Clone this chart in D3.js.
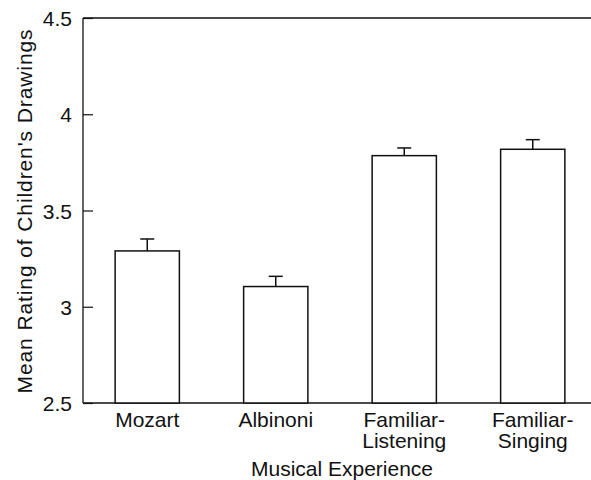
<!DOCTYPE html>
<html>
<head>
<meta charset="utf-8">
<script src="https://cdn.jsdelivr.net/npm/d3@7"></script>
<style>
  body { margin: 0; background: #fff; }
  text { font-family: "Liberation Sans", Arial, sans-serif; fill: #111; }
</style>
</head>
<body>
<div id="chart"></div>
<script>
// chart data
const categories = [["Mozart"], ["Albinoni"], ["Familiar-", "Listening"], ["Familiar-", "Singing"]];
const means = [3.29, 3.105, 3.785, 3.818];
const errors = [0.062, 0.053, 0.04, 0.05];
const yTicks = [2.5, 3, 3.5, 4, 4.5];

const width = 591, height = 480;
const margin = { top: 18, right: -6, bottom: 77, left: 83 };

const svg = d3.select("#chart")
  .append("svg")
  .attr("width", width)
  .attr("height", height);

const x = d3.scaleBand()
  .domain(d3.range(categories.length))
  .range([margin.left, width - margin.right])
  .paddingInner(0.5)
  .paddingOuter(0.25);

const y = d3.scaleLinear()
  .domain([2.5, 4.5])
  .range([height - margin.bottom, margin.top]);

// frame lines: left, top and bottom
const frame = svg.append("g").attr("stroke", "#111").attr("stroke-width", 1.3);
frame.append("line")
  .attr("x1", margin.left).attr("x2", margin.left)
  .attr("y1", y(4.5)).attr("y2", y(2.5));
frame.append("line")
  .attr("x1", margin.left).attr("x2", width)
  .attr("y1", y(4.5)).attr("y2", y(4.5));
frame.append("line")
  .attr("x1", margin.left).attr("x2", width)
  .attr("y1", y(2.5)).attr("y2", y(2.5));

// y axis, ticks point inward
const yAxis = svg.append("g")
  .attr("transform", `translate(${margin.left},0)`)
  .call(d3.axisRight(y).tickValues(yTicks).tickSize(10).tickFormat(d3.format("")));
yAxis.select(".domain").remove();
yAxis.selectAll("line").attr("stroke", "#111").attr("stroke-width", 1.2);
yAxis.selectAll("text")
  .attr("x", -11)
  .attr("text-anchor", "end")
  .attr("dy", "0.36em")
  .style("font-size", "21px");

// bars
svg.append("g")
  .selectAll("rect")
  .data(means)
  .join("rect")
  .attr("x", (d, i) => x(i))
  .attr("y", (d) => y(d))
  .attr("width", x.bandwidth())
  .attr("height", (d) => y(2.5) - y(d))
  .attr("fill", "#fff")
  .attr("stroke", "#111")
  .attr("stroke-width", 1.5);

// error bars (upper only)
const err = svg.append("g").attr("stroke", "#111").attr("stroke-width", 1.5);
err.selectAll(".stem")
  .data(means)
  .join("line")
  .attr("class", "stem")
  .attr("x1", (d, i) => x(i) + x.bandwidth() / 2)
  .attr("x2", (d, i) => x(i) + x.bandwidth() / 2)
  .attr("y1", (d) => y(d))
  .attr("y2", (d, i) => y(d + errors[i]));
err.selectAll(".cap")
  .data(means)
  .join("line")
  .attr("class", "cap")
  .attr("x1", (d, i) => x(i) + x.bandwidth() / 2 - 7)
  .attr("x2", (d, i) => x(i) + x.bandwidth() / 2 + 7)
  .attr("y1", (d, i) => y(d + errors[i]))
  .attr("y2", (d, i) => y(d + errors[i]));

// category labels
const labels = svg.append("g")
  .selectAll("text")
  .data(categories)
  .join("text")
  .attr("x", (d, i) => x(i) + x.bandwidth() / 2)
  .attr("y", 427)
  .attr("text-anchor", "middle")
  .style("font-size", "21px");
labels.selectAll("tspan")
  .data((d) => d)
  .join("tspan")
  .attr("x", function () { return this.parentNode.getAttribute("x"); })
  .attr("dy", (d, i) => (i === 0 ? 0 : 21))
  .text((d) => d);

// axis titles
svg.append("text")
  .attr("x", 342)
  .attr("y", 476)
  .attr("text-anchor", "middle")
  .style("font-size", "21px")
  .text("Musical Experience");

svg.append("text")
  .attr("transform", "translate(32,211) rotate(-90)")
  .attr("text-anchor", "middle")
  .style("font-size", "21px")
  .style("letter-spacing", "0.9px")
  .text("Mean Rating of Children's Drawings");
</script>
</body>
</html>
